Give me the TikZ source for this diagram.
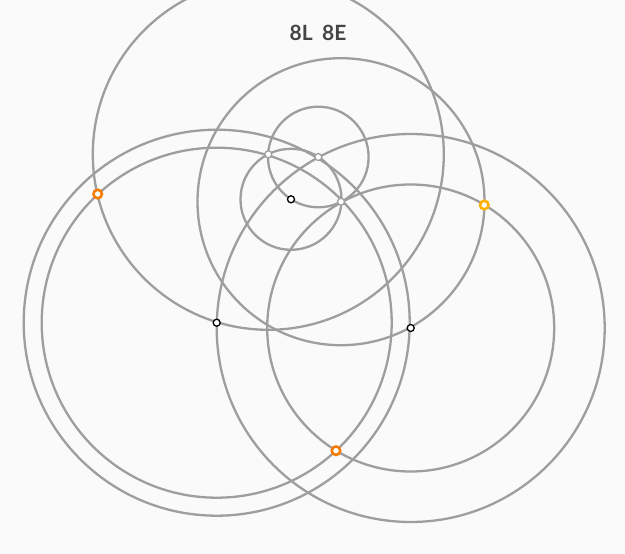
\documentclass[tikz,border=0pt]{standalone}
\usepackage{fontspec}
\setsansfont{Lato}
\usetikzlibrary{positioning}
\definecolor{cerclegris}{RGB}{158,158,158}
\definecolor{fondclair}{RGB}{250,250,250}
\definecolor{pointorange}{RGB}{245,124,0}
\definecolor{pointjaune}{RGB}{255,176,0}
\definecolor{titregris}{RGB}{68,68,68}

\begin{document}
\begin{tikzpicture}[x=1pt,y=-1pt,
    cercle/.style={draw=cerclegris, line width=2.3pt},
    centre/.style={circle, draw=cerclegris, fill=white, line width=1.3pt,
                   inner sep=0pt, minimum size=7pt},
    centrenoir/.style={centre, draw=black},
    croisement/.style={circle, fill=white, line width=2.6pt,
                       inner sep=0pt, minimum size=8.5pt}]
  % Fond clair et cadre de la figure
  \fill[fondclair] (0,0) rectangle (625,554);
  \useasboundingbox (0,0) rectangle (625,554);

  % Centres des cercles
  \coordinate (haut)   at (268.3,154.3);
  \coordinate (milieu) at (341,201.7);
  \coordinate (petitA) at (318.3,157);
  \coordinate (petitB) at (291,199.3);
  \coordinate (gauche) at (216.7,322.7);
  \coordinate (droite) at (410.7,328);

  % Les huit cercles
  \draw[cercle] (haut)   circle[radius=175.5];
  \draw[cercle] (milieu) circle[radius=143.5];
  \draw[cercle] (petitA) circle[radius=50.3];
  \draw[cercle] (petitB) circle[radius=50.5];
  \draw[cercle] (gauche) circle[radius=193];
  \draw[cercle] (gauche) circle[radius=175];
  \draw[cercle] (droite) circle[radius=194];
  \draw[cercle] (droite) circle[radius=143.5];

  % Centres marques
  \node[centre] (pH) at (haut) {};
  \node[centre] (pM) at (milieu) {};
  \node[centre] (pA) at (petitA) {};
  \node[centrenoir] (pB) at (petitB) {};
  \node[centrenoir] (pG) at (gauche) {};
  \node[centrenoir] (pD) at (droite) {};

  % Points d'intersection
  \node[croisement, draw=pointorange] (iGauche) at (97.7,194) {};
  \node[croisement, draw=pointorange] (iBas)    at (336,450.7) {};
  \node[croisement, draw=pointjaune]  (iDroite) at (484.3,205) {};

  % Titre
  \node[text=titregris, font=\sffamily\bfseries\fontsize{21}{21}\selectfont]
    (titre) at (318,33) {8L\hspace{0.45em}8E};
\end{tikzpicture}
\end{document}
